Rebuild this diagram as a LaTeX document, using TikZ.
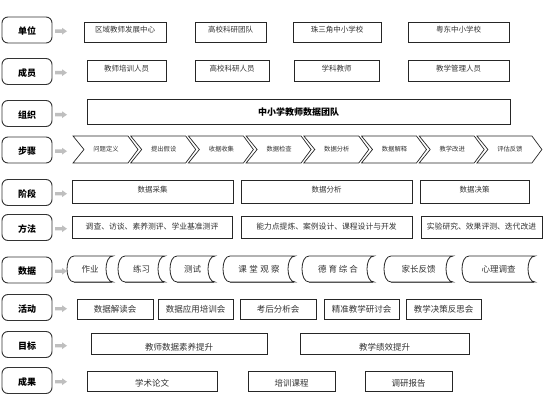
\documentclass[tikz,border=0pt]{standalone}
\usepackage{fontspec}
\setmainfont{Noto Sans CJK SC}
\newcommand\mybox[7][]{%
  \pgfmathsetmacro\bcx{(#3+#5)/2}\pgfmathsetmacro\bcy{(#4+#6)/2}%
  \pgfmathsetmacro\bw{#5-#3}\pgfmathsetmacro\bh{#6-#4}%
  \node[basebox,#1,minimum width=\bw pt,minimum height=\bh pt] (#2) at (\bcx,\bcy) {#7};}
\tikzset{
  basebox/.style={draw=black!85,line width=0.8pt,inner sep=0pt,text=black!80,
    font=\fontsize{7.5}{8}\selectfont},
  upbox/.style={text height=6.5pt,text depth=5pt},
  goalbox/.style={font=\fontsize{8.5}{9}\selectfont,text height=15pt,text depth=1.5pt},
  outbox/.style={font=\fontsize{8.5}{9}\selectfont,text height=13pt,text depth=1.5pt},
  actbox/.style={font=\fontsize{8.5}{9}\selectfont},
  methbox/.style={font=\fontsize{7.8}{8}\selectfont},
  orgbox/.style={font=\bfseries\fontsize{9}{10}\selectfont,text=black,text height=10pt,text depth=1pt},
  lbl/.style={draw=black!80,line width=0.9pt,rounded corners=6pt,inner sep=0pt,
    minimum width=50pt,minimum height=26pt,text=black,
    font=\bfseries\fontsize{9}{10}\selectfont,text height=10.5pt,text depth=1pt},
  chev/.style={draw=black!85,line width=0.7pt},
  chevtext/.style={inner sep=0pt,text=black!80,font=\fontsize{6.3}{7}\selectfont},
  datashape/.style={draw=black!85,line width=0.8pt},
  datashadow/.style={draw=black!55,line width=1pt},
  datatext/.style={inner sep=0pt,text=black!80,font=\fontsize{8.5}{9}\selectfont},
  garrow/.style={fill=black!25}
}
\begin{document}
\begin{tikzpicture}[x=1pt,y=-1pt]
\fill[white] (0,0) rectangle (549,417);
\useasboundingbox (0,0) rectangle (549,417);

% row labels
\foreach \cy/\t/\n in {30/单位/l1,71.5/成员/l2,113.5/组织/l3,150/步骤/l4,192.5/阶段/l5,227.5/方法/l6,270/数据/l7,307.5/活动/l8,344.5/目标/l9,380.5/成果/l10}{
  \node[lbl] (\n) at (27,\cy) {\t};
  \fill[garrow] (55,\cy+1.2-1.7) -- (62,\cy+1.2-1.7) -- (62,\cy+1.2-3.4) -- (67,\cy+1.2)
     -- (62,\cy+1.2+3.4) -- (62,\cy+1.2+1.7) -- (55,\cy+1.2+1.7) -- cycle;
}

% units
\mybox[upbox]{u1}{84}{22}{166}{42}{区域教师发展中心}
\mybox[upbox]{u2}{195}{22}{266}{42}{高校科研团队}
\mybox[upbox]{u3}{293}{22}{381}{42}{珠三角中小学校}
\mybox[upbox]{u4}{408}{22}{509}{42}{粤东中小学校}
% members
\mybox[upbox]{m1}{87}{60}{166}{81}{教师培训人员}
\mybox[upbox]{m2}{195}{60}{269}{81}{高校科研人员}
\mybox[upbox]{m3}{294}{60}{379}{81}{学科教师}
\mybox[upbox]{m4}{408}{60}{509}{81}{教学管理人员}
% organisation
\mybox[orgbox]{o}{87}{99}{510}{124}{中小学教师数据团队}

% steps
\foreach \t [count=\i] in {问题定义,提出假设,收据收集,数据检查,数据分析,数据解释,教学改进,评估反馈}{
  \pgfmathsetmacro\L{73+(\i-1)*57.7}
  \draw[chev] (\L,136) -- ++(55,0) -- ++(10,13.5) -- ++(-10,13.5) -- ++(-55,0) -- ++(11,-13.5) -- cycle;
  \node[chevtext] (c\i) at (\L+33,149.5) {\t};
}

% stages
\mybox[upbox]{s1}{72}{180}{233}{203}{数据采集}
\mybox[upbox]{s2}{241}{180}{412}{203}{数据分析}
\mybox[upbox]{s3}{420}{180}{529}{203}{数据决策}
% methods
\mybox[methbox]{t1}{72}{216}{232}{238}{调查、访谈、素养测评、学业基准测评}
\mybox[methbox]{t2}{241}{216}{412}{238}{能力点提炼、案例设计、课程设计与开发}
\mybox[methbox]{t3}{421}{216}{542}{238}{实验研究、效果评测、迭代改进}

% data
\foreach \l/\r/\t [count=\i] in {67/113/作业,118/165/练习,170/215/测试,
   223/295/课\kern2.5pt 堂\kern2.5pt 观\kern2.5pt 察,302/374/德 育 综 合,384/453/家长反馈,462/535/心理调查}{
  \draw[datashadow] (\l+7,282.8) -- (\r-1,282.8);
  \draw[datashape] (\l+7,256) .. controls (\l-2.33,256) and (\l-2.33,282) .. (\l+7,282)
     -- (\r,282) .. controls (\r-9.33,282) and (\r-9.33,256) .. (\r,256) -- cycle;
  \node[datatext] (d\i) at ({(\l+\r)/2},269) {\t};
}

% activities
\mybox[actbox]{a1}{77}{299}{153}{319}{数据解读会}
\mybox[actbox]{a2}{158}{299}{233}{319}{数据应用培训会}
\mybox[actbox]{a3}{240}{299}{316}{319}{考后分析会}
\mybox[actbox]{a4}{324}{299}{399}{319}{精准教学研讨会}
\mybox[actbox]{a5}{406}{299}{481}{319}{教学决策反思会}
% goals
\mybox[goalbox]{g1}{91}{333}{267}{354}{教师数据素养提升}
\mybox[goalbox]{g2}{300}{333}{469}{354}{教学绩效提升}
% outcomes
\mybox[outbox]{r1}{87}{371}{217}{391}{学术论文}
\mybox[outbox]{r2}{248}{371}{335}{391}{培训课程}
\mybox[outbox]{r3}{365}{371}{452}{391}{调研报告}
\end{tikzpicture}
\end{document}
